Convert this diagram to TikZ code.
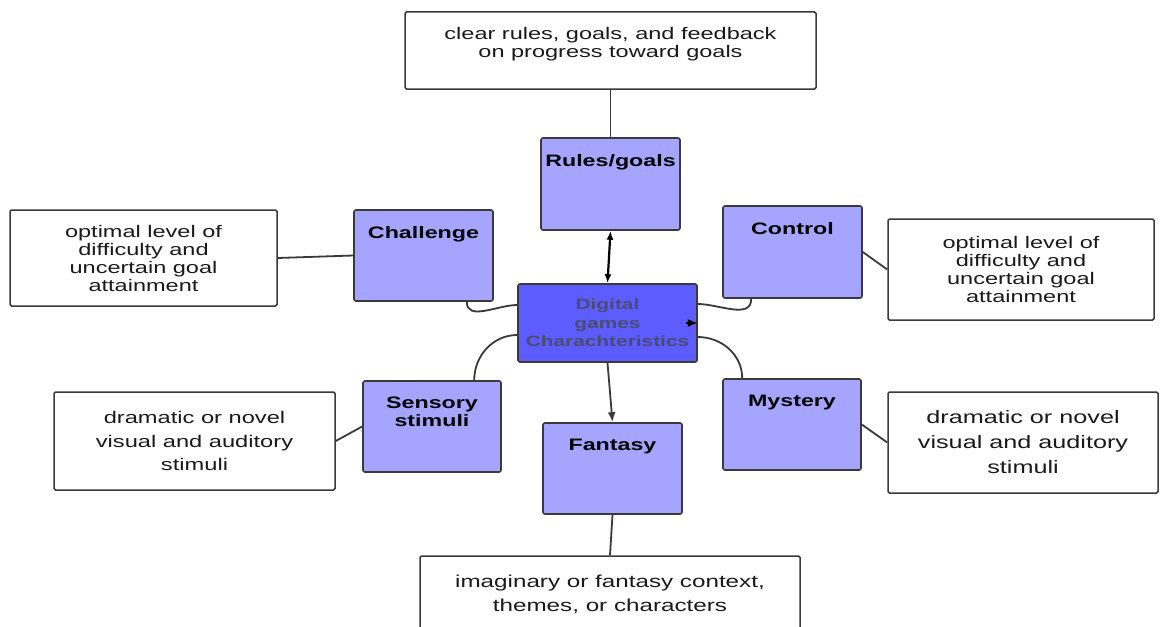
\documentclass[tikz,border=0pt]{standalone}
\usepackage{fontspec}
\setmainfont{Liberation Sans}[FakeStretch=1.4]
\usepackage{tikz}
\usetikzlibrary{positioning,arrows.meta}
\definecolor{edge}{HTML}{3A3A3A}
\definecolor{ink}{HTML}{1A1A1A}
\definecolor{featbg}{HTML}{A5A5FF}
\definecolor{hubbg}{HTML}{5C5CFF}
\definecolor{hubtxt}{HTML}{4B4B6E}
\tikzset{
  feat/.style={rectangle,rounded corners=2pt,draw=edge,fill=featbg,
    line width=1.6pt,minimum width=139pt,minimum height=91pt,inner sep=0pt},
  feattxt/.style={font=\bfseries\fontsize{16.6}{18}\selectfont,text=black,
    align=center,inner sep=0pt,anchor=north,yshift=-17pt},
  hubbox/.style={rectangle,rounded corners=2pt,draw=edge,fill=hubbg,
    line width=1.6pt,minimum width=179pt,minimum height=78pt,inner sep=0pt,
    align=center,text=hubtxt,font=\bfseries\fontsize{14.9}{18.5}\selectfont},
  desc/.style={rectangle,rounded corners=1.5pt,draw=edge,fill=white,
    line width=1.5pt,inner sep=0pt,align=center,text=ink,
    font=\fontsize{16.8}{18}\selectfont},
  ln/.style={draw=edge,line width=1.8pt},
  ar/.style={-{Latex[length=10pt,width=8pt]},draw=edge,line width=1.8pt},
  dar/.style={{Latex[length=9pt,width=7pt]}-{Latex[length=9pt,width=7pt]},
    draw=black,line width=2.2pt},
}
\begin{document}
\begin{tikzpicture}
  \clip (0,0) rectangle (1161pt,-626pt);
  \fill[white] (0,0) rectangle (1161pt,-626pt);
  \begin{scope}[x=1pt,y=1pt]
  % centre
  \node[hubbox] (hub) at (607.5,-323) {Digital\\games\\Charachteristics};
  % the six characteristics
  \node[feat,minimum height=92pt,label={[feattxt]north:Rules/goals}] (rules) at (610.5,-184) {};
  \node[feat,label={[feattxt]north:Challenge}] (chal) at (423.5,-255.5) {};
  \node[feat,minimum height=92pt,label={[feattxt]north:Control}] (ctrl) at (792.5,-252) {};
  \node[feat,minimum width=138pt,label={[feattxt]north:{Sensory\\stimuli}}] (sens) at (432,-426.5) {};
  \node[feat,label={[feattxt]north:Fantasy}] (fant) at (612.5,-468.5) {};
  \node[feat,minimum width=138pt,label={[feattxt]north:Mystery}] (myst) at (792,-424.5) {};
  % descriptions
  \node[desc,minimum width=411pt,minimum height=77pt,text depth=17pt] (rulesd) at (610.5,-50.5)
    {clear rules, goals, and feedback\\on progress toward goals};
  \node[desc,minimum width=267pt,minimum height=96pt] (chald) at (143.5,-258)
    {optimal level of\\difficulty and\\uncertain goal\\attainment};
  \node[desc,minimum width=266pt,minimum height=101pt] (ctrld) at (1021,-269.5)
    {optimal level of\\difficulty and\\uncertain goal\\attainment};
  \node[desc,minimum width=281pt,minimum height=98pt,
    font=\fontsize{16.9}{23.5}\selectfont] (sensd) at (194.5,-441)
    {dramatic or novel\\visual and auditory\\stimuli};
  \node[desc,minimum width=270pt,minimum height=101pt,
    font=\fontsize{18}{25}\selectfont] (mystd) at (1023,-442.5)
    {dramatic or novel\\visual and auditory\\stimuli};
  \node[desc,minimum width=380pt,minimum height=76pt,
    font=\fontsize{17.3}{24}\selectfont] (fantd) at (610,-594)
    {imaginary or fantasy context,\\themes, or characters};
  % connectors
  \draw[ln] (rulesd) -- (rules);
  \draw[dar] (rules.south) -- (hub.north);
  \draw[ar] (hub.south) -- (fant.north);
  \draw[ln] (fant.south) -- (fantd.north);
  \draw[ln] (chald.east) -- (chal.west);
  \draw[ln] (ctrl.east) -- (ctrld.west);
  \draw[ln] (sens.west) -- (sensd.east);
  \draw[ln] (myst.east) -- (mystd.west);
  \draw[ln] ([xshift=-27pt]chal.south east) to[out=-90,in=180] ([yshift=18pt]hub.west);
  \draw[ln] ([xshift=29pt]ctrl.south west) to[out=-90,in=0] ([yshift=19pt]hub.east);
  \draw[ln] ([yshift=-12pt]hub.west) to[out=180,in=90] ([xshift=112pt]sens.north west);
  \draw[ln] ([yshift=-14pt]hub.east) to[out=0,in=90] ([xshift=20pt]myst.north west);
  \draw[ar,draw=black] ([xshift=-12pt]hub.east) -- (hub.east);
  \end{scope}
\end{tikzpicture}
\end{document}
